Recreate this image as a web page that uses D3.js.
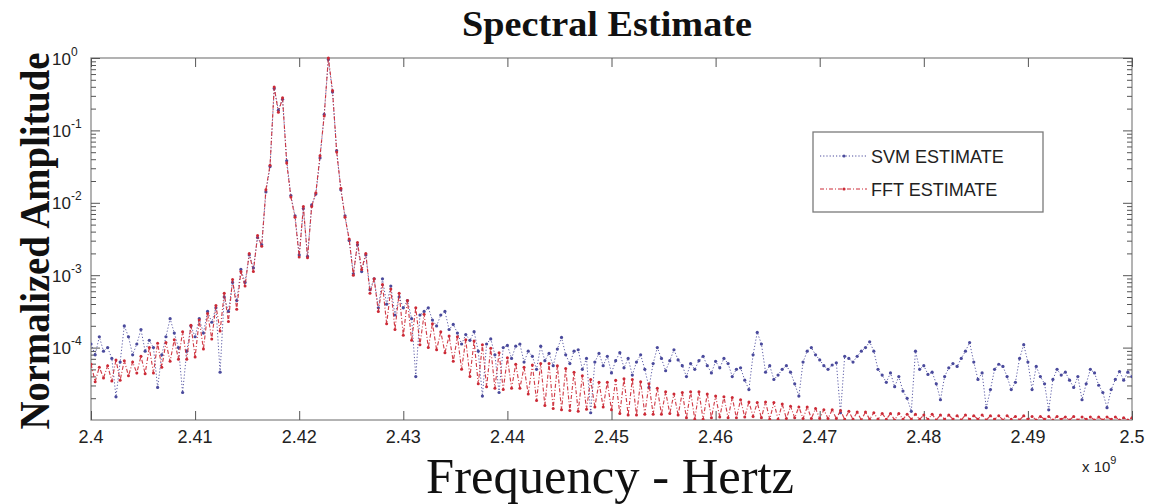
<!DOCTYPE html>
<html><head><meta charset="utf-8">
<script src="https://cdn.jsdelivr.net/npm/d3@7"></script>
<style>body{margin:0;background:#fff;} svg{display:block;}</style>
</head><body>
<svg id="chart" width="1158" height="504"></svg>
<script>
// ---- data ----
const titleText = "Spectral Estimate";
const xLabelText = "Frequency - Hertz";
const yLabelText = "Normalized Amplitude";
const seriesNames = ["SVM ESTIMATE", "FFT ESTIMATE"];
const freqStartGHz = 2.4;
const freqStepGHz = 0.0004;
const xTickValues = [2.40, 2.41, 2.42, 2.43, 2.44, 2.45, 2.46, 2.47, 2.48, 2.49, 2.50];
const xTickLabels = ["2.4", "2.41", "2.42", "2.43", "2.44", "2.45", "2.46", "2.47", "2.48", "2.49", "2.5"];
const yTickExponents = [0, -1, -2, -3, -4];
// log10 of normalized amplitude
const svmLog = [
-3.95,-4.10,-3.85,-4.05,-4.00,-4.15,-4.68,-4.20,-3.70,-3.85,
-4.10,-3.95,-3.75,-4.05,-3.90,-4.00,-4.55,-4.10,-3.85,-3.60,
-3.80,-4.00,-4.62,-4.05,-3.70,-3.85,-3.60,-3.80,-3.50,-3.65,
-3.45,-4.34,-3.30,-3.50,-3.10,-3.35,-2.92,-3.10,-2.72,-2.90,
-2.48,-2.58,-1.85,-1.50,-0.42,-0.72,-0.57,-1.42,-1.90,-2.18,
-2.72,-2.08,-2.74,-2.03,-1.88,-1.38,-0.78,-0.02,-0.47,-1.28,
-1.82,-2.18,-2.52,-2.98,-2.58,-2.95,-2.72,-3.20,-3.05,-3.45,
-3.05,-3.40,-3.15,-3.55,-3.30,-3.45,-3.35,-3.60,-4.40,-3.55,
-3.50,-3.45,-3.62,-3.70,-3.55,-3.50,-3.75,-3.68,-3.80,-3.95,
-3.82,-3.90,-3.78,-4.05,-4.67,-3.95,-3.88,-4.10,-4.62,-4.00,
-3.97,-4.15,-3.98,-3.95,-4.20,-4.05,-4.12,-4.30,-3.98,-4.18,
-4.08,-4.25,-4.02,-3.86,-4.10,-4.22,-4.05,-4.03,-4.30,-4.15,
-4.90,-4.20,-4.08,-4.25,-4.12,-4.35,-4.18,-4.07,-4.28,-4.15,
-4.38,-4.20,-4.10,-4.30,-4.55,-4.22,-4.00,-4.15,-4.32,-4.18,
-4.03,-4.17,-4.25,-4.40,-4.22,-4.30,-4.18,-4.12,-4.25,-4.35,
-4.19,-4.28,-4.15,-4.22,-4.40,-4.30,-4.28,-4.45,-4.58,-4.10,
-3.79,-3.95,-4.34,-4.25,-4.44,-4.38,-4.30,-4.25,-4.34,-4.50,
-4.67,-4.20,-4.05,-4.00,-4.10,-4.17,-4.25,-4.30,-4.24,-4.21,
-4.90,-4.12,-4.15,-4.20,-4.12,-4.05,-4.00,-3.92,-4.05,-4.30,
-4.38,-4.48,-4.35,-4.54,-4.40,-4.60,-4.70,-4.88,-4.05,-4.30,
-4.25,-4.37,-4.34,-4.50,-4.72,-4.40,-4.28,-4.22,-4.26,-4.15,
-4.05,-3.93,-4.20,-4.44,-4.35,-4.83,-4.58,-4.30,-4.23,-4.26,
-4.40,-4.58,-4.48,-4.15,-3.96,-4.20,-4.58,-4.26,-4.40,-4.50,
-4.86,-4.44,-4.30,-4.38,-4.34,-4.45,-4.55,-4.40,-4.72,-4.50,
-4.30,-4.35,-4.52,-4.62,-4.83,-4.58,-4.44,-4.33,-4.45,-4.34,
-4.40
];
const fftLog = [
-4.23,-4.47,-4.27,-4.42,-4.25,-4.46,-4.17,-4.45,-4.18,-4.39,
-4.20,-4.35,-4.12,-4.36,-4.00,-4.35,-3.94,-4.27,-3.93,-4.19,
-3.89,-4.16,-3.78,-4.16,-3.69,-4.13,-3.62,-4.02,-3.53,-3.88,
-3.42,-3.77,-3.25,-3.64,-3.06,-3.47,-2.95,-3.15,-2.70,-2.95,
-2.45,-2.60,-1.82,-1.48,-0.40,-0.75,-0.55,-1.45,-1.92,-2.20,
-2.75,-2.05,-2.76,-2.05,-1.86,-1.35,-0.80,0.00,-0.45,-1.30,
-1.80,-2.20,-2.50,-3.00,-2.55,-2.92,-2.70,-3.25,-3.05,-3.50,
-3.13,-3.67,-3.19,-3.75,-3.25,-3.83,-3.35,-3.90,-3.45,-3.96,
-3.54,-4.00,-3.67,-4.03,-3.78,-4.07,-3.84,-4.19,-3.85,-4.30,
-3.89,-4.40,-3.91,-4.50,-3.96,-4.54,-4.01,-4.56,-4.07,-4.58,
-4.14,-4.56,-4.23,-4.56,-4.27,-4.64,-4.24,-4.73,-4.22,-4.80,
-4.22,-4.84,-4.25,-4.86,-4.29,-4.87,-4.34,-4.88,-4.39,-4.85,
-4.44,-4.82,-4.48,-4.82,-4.48,-4.86,-4.45,-4.91,-4.43,-4.93,
-4.44,-4.93,-4.47,-4.92,-4.50,-4.92,-4.56,-4.92,-4.61,-4.91,
-4.64,-4.93,-4.62,-4.97,-4.61,-4.99,-4.61,-4.99,-4.64,-4.97,
-4.67,-4.96,-4.68,-4.97,-4.69,-4.97,-4.72,-4.96,-4.75,-4.95,
-4.76,-4.97,-4.75,-4.99,-4.76,-4.99,-4.78,-4.98,-4.81,-4.97,
-4.82,-4.98,-4.82,-4.98,-4.84,-4.98,-4.86,-4.98,-4.86,-4.98,
-4.87,-4.99,-4.88,-4.99,-4.89,-5.00,-4.89,-4.99,-4.90,-4.99,
-4.91,-4.99,-4.91,-5.00,-4.91,-4.99,-4.92,-4.99,-4.92,-4.99,
-4.93,-4.99,-4.92,-5.00,-4.93,-4.99,-4.93,-4.99,-4.94,-5.00,
-4.93,-4.99,-4.94,-4.99,-4.93,-5.00,-4.94,-4.99,-4.94,-5.00,
-4.94,-4.99,-4.95,-5.00,-4.94,-4.99,-4.95,-5.00,-4.95,-4.99,
-4.95,-5.00,-4.95,-4.99,-4.96,-5.00,-4.95,-5.00,-4.96,-4.99,
-4.96,-5.00,-4.96,-5.00,-4.96,-4.99,-4.96,-5.00,-4.97,-5.00,
-4.97
];

// ---- drawing ----
const svg = d3.select("#chart");
const W = 1158, H = 504;
const plot = {left: 91, right: 1132, top: 58, bottom: 420};
const x = d3.scaleLinear().domain([2.4, 2.5]).range([plot.left, plot.right]);
const y = d3.scaleLog().domain([1e-5, 1]).range([plot.bottom, plot.top]);

const freqs = svmLog.map((_, i) => +(freqStartGHz + i * freqStepGHz).toFixed(4));
const svmData = svmLog.map((v, i) => ({f: freqs[i], v: Math.pow(10, v)}));
const fftData = fftLog.map((v, i) => ({f: freqs[i], v: Math.pow(10, v)}));

const colSvm = "#4a4a9c", colFft = "#cc2a36";

svg.append("rect").attr("width", W).attr("height", H).attr("fill", "#fff");

svg.append("defs").append("clipPath").attr("id", "clip")
  .append("rect").attr("x", plot.left).attr("y", plot.top - 2)
  .attr("width", plot.right - plot.left).attr("height", plot.bottom - plot.top + 2);

// plot box
svg.append("rect").attr("x", plot.left).attr("y", plot.top)
  .attr("width", plot.right - plot.left).attr("height", plot.bottom - plot.top)
  .attr("fill", "#fff").attr("stroke", "#8a8a8a").attr("stroke-width", 1.3);

// axes (ticks inside)
const axisColor = "#555";
const majorLen = 9, minorLen = 5;
const gxB = svg.append("g").attr("transform", `translate(0,${plot.bottom})`)
  .call(d3.axisBottom(x).tickValues(xTickValues).tickSize(-majorLen).tickFormat(""));
const gxT = svg.append("g").attr("transform", `translate(0,${plot.top})`)
  .call(d3.axisTop(x).tickValues(xTickValues).tickSize(-majorLen).tickFormat(""));
const majorY = yTickExponents.map(e => Math.pow(10, e));
const minorY = [];
[-5, -4, -3, -2, -1].forEach(e => { for (let m = 2; m <= 9; m++) minorY.push(m * Math.pow(10, e)); });
const gyL = svg.append("g").attr("transform", `translate(${plot.left},0)`)
  .call(d3.axisLeft(y).tickValues(majorY).tickSize(-majorLen).tickFormat(""));
const gyLm = svg.append("g").attr("transform", `translate(${plot.left},0)`)
  .call(d3.axisLeft(y).tickValues(minorY).tickSize(-minorLen).tickFormat(""));
const gyR = svg.append("g").attr("transform", `translate(${plot.right},0)`)
  .call(d3.axisRight(y).tickValues(majorY).tickSize(-majorLen).tickFormat(""));
const gyRm = svg.append("g").attr("transform", `translate(${plot.right},0)`)
  .call(d3.axisRight(y).tickValues(minorY).tickSize(-minorLen).tickFormat(""));
[gxB, gxT, gyL, gyLm, gyR, gyRm].forEach(g => {
  g.select(".domain").remove();
  g.selectAll("line").attr("stroke", axisColor).attr("stroke-width", 1);
});

// x tick labels
svg.append("g").selectAll("text").data(xTickValues).join("text")
  .attr("x", d => x(d)).attr("y", 442.5)
  .attr("text-anchor", "middle")
  .attr("font-family", "Liberation Sans, Arial, sans-serif").attr("font-size", 18)
  .attr("fill", "#222")
  .text((d, i) => xTickLabels[i]);

// y tick labels 10^k
const yl = svg.append("g").selectAll("text").data(yTickExponents).join("text")
  .attr("x", 52).attr("y", d => y(Math.pow(10, d)) + 6.5)
  .attr("font-family", "Liberation Sans, Arial, sans-serif").attr("font-size", 17)
  .attr("fill", "#222");
yl.append("tspan").text("10");
yl.append("tspan").attr("dy", -9).attr("font-size", 12).text(d => d);

// x 10^9
const mult = svg.append("text").attr("x", 1082).attr("y", 472)
  .attr("font-family", "Liberation Sans, Arial, sans-serif").attr("font-size", 15).attr("fill", "#222");
mult.append("tspan").text("x 10");
mult.append("tspan").attr("dy", -8).attr("font-size", 11).text("9");

// series
const line = d3.line().x(d => x(d.f)).y(d => y(d.v));
const gData = svg.append("g").attr("clip-path", "url(#clip)");
function drawSeries(data, color, dash, r, sw) {
  gData.append("path").datum(data).attr("d", line)
    .attr("fill", "none").attr("stroke", color).attr("stroke-width", sw)
    .attr("stroke-dasharray", dash).attr("opacity", 0.9);
  gData.append("g").selectAll("circle").data(data).join("circle")
    .attr("cx", d => x(d.f)).attr("cy", d => y(d.v)).attr("r", r).attr("fill", color);
}
drawSeries(svmData, colSvm, "1.2,2", 1.6, 1.0);
drawSeries(fftData, colFft, "4,2,1,2", 1.5, 1.15);

// legend
const lg = svg.append("g");
lg.append("rect").attr("x", 813).attr("y", 132).attr("width", 230).attr("height", 80)
  .attr("fill", "#fff").attr("stroke", "#7a7a7a").attr("stroke-width", 1.3);
const legItems = [
  {name: seriesNames[0], color: colSvm, dash: "1.2,2", y: 156},
  {name: seriesNames[1], color: colFft, dash: "4,2,1,2", y: 189}
];
legItems.forEach(it => {
  lg.append("line").attr("x1", 820).attr("x2", 867).attr("y1", it.y).attr("y2", it.y)
    .attr("stroke", it.color).attr("stroke-width", 1).attr("stroke-dasharray", it.dash);
  lg.append("circle").attr("cx", 844).attr("cy", it.y).attr("r", 1.6).attr("fill", it.color);
  lg.append("text").attr("x", 871).attr("y", it.y + 6.5)
    .attr("font-family", "Liberation Sans, Arial, sans-serif").attr("font-size", 18)
    .attr("fill", "#222").text(it.name);
});

// title and axis labels
svg.append("text").attr("x", 607).attr("y", 36).attr("text-anchor", "middle")
  .attr("font-family", "Liberation Serif, Times New Roman, serif").attr("font-weight", "bold")
  .attr("font-size", 36).attr("textLength", 290).attr("lengthAdjust", "spacingAndGlyphs")
  .attr("fill", "#111").text(titleText);
svg.append("text").attr("transform", "translate(49,241) rotate(-90)").attr("text-anchor", "middle")
  .attr("font-family", "Liberation Serif, Times New Roman, serif").attr("font-weight", "bold")
  .attr("font-size", 43).attr("textLength", 377).attr("lengthAdjust", "spacingAndGlyphs")
  .attr("fill", "#111").text(yLabelText);
svg.append("text").attr("x", 610).attr("y", 492.5).attr("text-anchor", "middle")
  .attr("font-family", "Liberation Serif, Times New Roman, serif")
  .attr("font-size", 51).attr("textLength", 368).attr("lengthAdjust", "spacingAndGlyphs")
  .attr("fill", "#111").text(xLabelText);
</script>
</body></html>
